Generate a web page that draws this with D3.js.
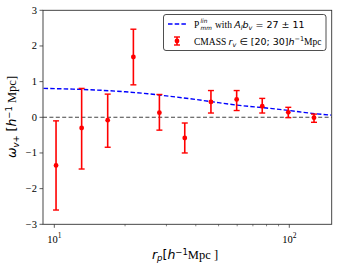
<!DOCTYPE html>
<html><head><meta charset="utf-8">
<script src="https://cdn.jsdelivr.net/npm/d3@7"></script>
<style>body{margin:0;background:#fff}svg{display:block}text{white-space:pre}</style>
</head><body>
<svg id="c" width="340" height="269"></svg>
<script>
// data
const rp      = [10.17, 13.07, 16.87, 21.7, 28.0, 35.9, 46.4, 59.7, 76.7, 99.0, 127.4];
const wv      = [-1.35, -0.30, -0.08, 1.69, 0.13, -0.58, 0.43, 0.50, 0.31, 0.14, -0.01];
const errHi   = [-0.10, 0.81, 0.65, 2.47, 0.64, -0.16, 0.75, 0.75, 0.53, 0.28, 0.09];
const errLo   = [-2.60, -1.45, -0.84, 0.91, -0.36, -1.00, 0.12, 0.19, 0.12, -0.01, -0.14];
const modelR  = [9, 12, 15, 20, 25, 30, 40, 50, 60, 80, 100, 125, 151];
const modelW  = [0.81, 0.79, 0.765, 0.715, 0.66, 0.60, 0.50, 0.41, 0.34, 0.26, 0.19, 0.11, 0.06];
const yTicks  = [-3, -2, -1, 0, 1, 2, 3];
const xMajor  = [10, 100];
const xMinor  = [20, 30, 40, 50, 60, 70, 80, 90];

const svg = d3.select("#c");
const L = 43, R = 331.7, T = 10.3, B = 224.3;
const x = d3.scaleLog().domain([8.95, 151.5]).range([L, R]);
const y = d3.scaleLinear().domain([-3, 3]).range([B, T]);
const serif = "'Liberation Serif','DejaVu Serif',serif";
const sans = "'DejaVu Sans',sans-serif";

// zero line
svg.append("line").attr("x1", L).attr("x2", R).attr("y1", y(0)).attr("y2", y(0))
  .attr("stroke", "#444").attr("stroke-width", 1.1).attr("stroke-dasharray", "4,2.4");

// model line
const line = d3.line().x(d => x(d[0])).y(d => y(d[1])).curve(d3.curveMonotoneX);
svg.append("path").datum(modelR.map((r, i) => [r, modelW[i]]))
  .attr("d", line).attr("fill", "none").attr("stroke", "#0000ff")
  .attr("stroke-width", 1.4).attr("stroke-dasharray", "4.5,2.2");

// error bars
const g = svg.append("g").attr("stroke", "#ff0000").attr("fill", "#ff0000");
rp.forEach((r, i) => {
  const cx = x(r);
  g.append("line").attr("x1", cx).attr("x2", cx).attr("y1", y(errHi[i])).attr("y2", y(errLo[i])).attr("stroke-width", 1.6);
  [errHi[i], errLo[i]].forEach(v => g.append("line").attr("x1", cx - 3).attr("x2", cx + 3)
    .attr("y1", y(v)).attr("y2", y(v)).attr("stroke-width", 1.4));
  g.append("circle").attr("cx", cx).attr("cy", y(wv[i])).attr("r", 2.4).attr("stroke", "none");
});

// frame
svg.append("rect").attr("x", L).attr("y", T).attr("width", R - L).attr("height", B - T)
  .attr("fill", "none").attr("stroke", "#333").attr("stroke-width", 0.9);

// y ticks
yTicks.forEach(v => {
  svg.append("line").attr("x1", L - 3.5).attr("x2", L).attr("y1", y(v)).attr("y2", y(v)).attr("stroke", "#333").attr("stroke-width", 0.8);
  svg.append("text").attr("x", L - 6).attr("y", y(v) + 3.5).attr("text-anchor", "end")
    .attr("font-family", serif).attr("font-size", 10.5).text(v < 0 ? "\u2212" + Math.abs(v) : v);
});
// x ticks
xMajor.forEach(v => {
  svg.append("line").attr("x1", x(v)).attr("x2", x(v)).attr("y1", B).attr("y2", B + 3.5).attr("stroke", "#333").attr("stroke-width", 0.8);
  const t = svg.append("text").attr("x", x(v)).attr("y", B + 19).attr("text-anchor", "middle")
    .attr("font-family", serif).attr("font-size", 10.5);
  t.append("tspan").text("10");
  t.append("tspan").attr("dy", -5).attr("font-size", 7.5).text(Math.log10(v));
});
xMinor.forEach(v => {
  svg.append("line").attr("x1", x(v)).attr("x2", x(v)).attr("y1", B).attr("y2", B + 2).attr("stroke", "#333").attr("stroke-width", 0.6);
});

// x label
const xl = svg.append("text").attr("x", 185).attr("y", 259).attr("text-anchor", "middle").attr("font-size", 12.5);
xl.append("tspan").attr("font-family", sans).attr("font-style", "italic").text("r");
xl.append("tspan").attr("font-family", sans).attr("font-style", "italic").attr("font-size", 8.5).attr("dy", 2).text("p");
xl.append("tspan").attr("font-family", sans).attr("dy", -2).text("[");
xl.append("tspan").attr("font-family", sans).attr("font-style", "italic").text("h");
xl.append("tspan").attr("font-family", sans).attr("font-size", 8.5).attr("dy", -4.5).text("\u22121");
xl.append("tspan").attr("font-family", serif).attr("dy", 4.5).text("Mpc ]");

// y label
const yl = svg.append("text").attr("transform", "translate(16,117) rotate(-90)").attr("text-anchor", "middle").attr("font-size", 12.5);
yl.append("tspan").attr("font-family", sans).attr("font-style", "italic").text("\u03c9");
yl.append("tspan").attr("font-family", sans).attr("font-style", "italic").attr("font-size", 8.5).attr("dy", 2.5).text("v");
yl.append("tspan").attr("font-family", sans).attr("font-size", 8.5).text("+");
yl.append("tspan").attr("font-family", sans).attr("dy", -2.5).text(" [");
yl.append("tspan").attr("font-family", sans).attr("font-style", "italic").text("h");
yl.append("tspan").attr("font-family", sans).attr("font-size", 8.5).attr("dy", -4.5).text("\u22121");
yl.append("tspan").attr("font-family", serif).attr("dy", 4.5).text(" Mpc]");

// legend
svg.append("rect").attr("x", 163.5).attr("y", 14.5).attr("width", 162.5).attr("height", 36)
  .attr("rx", 2.5).attr("fill", "#fff").attr("fill-opacity", 0.8).attr("stroke", "#222").attr("stroke-width", 0.8);
svg.append("line").attr("x1", 168).attr("x2", 186).attr("y1", 24).attr("y2", 24)
  .attr("stroke", "#0000ff").attr("stroke-width", 1.4).attr("stroke-dasharray", "4.5,2.2");
svg.append("line").attr("x1", 177).attr("x2", 177).attr("y1", 37).attr("y2", 45).attr("stroke", "#ff0000").attr("stroke-width", 1.6);
[37, 45].forEach(v => svg.append("line").attr("x1", 174).attr("x2", 180).attr("y1", v).attr("y2", v).attr("stroke", "#ff0000").attr("stroke-width", 1.4));
svg.append("circle").attr("cx", 177).attr("cy", 41).attr("r", 2.4).attr("fill", "#ff0000");

// legend row 1: P^lin_mm with A_l b_v = 27 ± 11
svg.append("text").attr("x", 194).attr("y", 27.5).attr("font-size", 9.5).attr("font-family", serif).text("P");
svg.append("text").attr("x", 200.5).attr("y", 22.5).attr("font-size", 5.8).attr("font-family", sans).attr("font-style", "italic").text("lin");
svg.append("text").attr("x", 200.5).attr("y", 30).attr("font-size", 5.8).attr("font-family", sans).attr("font-style", "italic").text("mm");
const l1 = svg.append("text").attr("x", 215).attr("y", 27.5).attr("font-size", 9.5);
l1.append("tspan").attr("font-family", serif).text("with ");
l1.append("tspan").attr("font-family", sans).attr("font-style", "italic").text("A");
l1.append("tspan").attr("font-family", sans).attr("font-style", "italic").attr("font-size", 6.5).attr("dy", 2).text("l");
l1.append("tspan").attr("font-family", sans).attr("font-style", "italic").attr("dy", -2).text("b");
l1.append("tspan").attr("font-family", sans).attr("font-style", "italic").attr("font-size", 6.5).attr("dy", 2).text("v");
l1.append("tspan").attr("font-family", sans).attr("dy", -2).text(" = 27 \u00b1 11");

const l2 = svg.append("text").attr("x", 194).attr("y", 44.5).attr("font-size", 9.5);
l2.append("tspan").attr("font-family", serif).text("CMASS ");
l2.append("tspan").attr("font-family", sans).attr("font-style", "italic").text("r");
l2.append("tspan").attr("font-family", sans).attr("font-style", "italic").attr("font-size", 6.5).attr("dy", 2).text("v");
l2.append("tspan").attr("font-family", sans).attr("dy", -2).text(" \u2208 [20; 30]");
l2.append("tspan").attr("font-family", sans).attr("font-style", "italic").text("h");
l2.append("tspan").attr("font-family", sans).attr("font-size", 6.5).attr("dy", -3.5).text("\u22121");
l2.append("tspan").attr("font-family", serif).attr("dy", 3.5).text("Mpc");
</script>
</body></html>
